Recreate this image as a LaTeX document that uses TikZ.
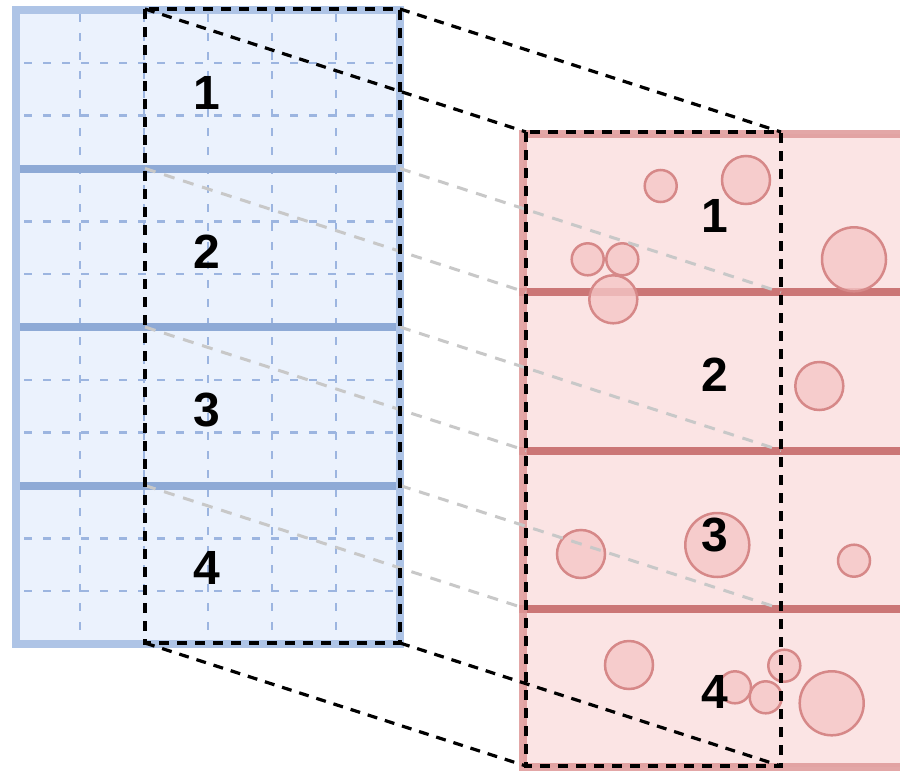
\documentclass[tikz,border=0pt]{standalone}
\usepackage{fontspec}
\setmainfont{Liberation Sans}
\definecolor{bluefill}{RGB}{235,242,253}
\definecolor{blueedge}{RGB}{174,196,230}
\definecolor{bluethick}{RGB}{142,170,214}
\definecolor{bluedash}{RGB}{156,181,224}
\definecolor{redfill}{RGB}{251,228,228}
\definecolor{rededge}{RGB}{222,152,152}
\definecolor{redthick}{RGB}{203,118,118}
\definecolor{circfill}{RGB}{245,198,198}
\definecolor{circedge}{RGB}{214,136,136}
\definecolor{greyline}{RGB}{200,200,200}
\begin{document}
\begin{tikzpicture}[x=1pt,y=-1pt,
  bluegrid/.style={draw=bluedash, line width=2.5pt, dash pattern=on 8pt off 11pt},
  bluesep/.style={draw=bluethick, line width=8pt},
  redsep/.style={draw=redthick, line width=8pt},
  bubble/.style={fill=circfill, draw=circedge, line width=2.5pt, fill opacity=0.8},
  viewbox/.style={draw=black, line width=3.2pt, dash pattern=on 10pt off 8pt},
  proj/.style={draw=black, line width=3.2pt, dash pattern=on 10pt off 8pt},
  sideproj/.style={draw=greyline, line width=3pt, dash pattern=on 11pt off 9pt},
  num/.style={inner sep=0pt, font=\bfseries\fontsize{48}{48}\selectfont}]
\useasboundingbox (0,0) rectangle (900,771);
\clip (0,0) rectangle (900,771);

% ---------- blue (left) block ----------
\fill[bluefill] (16,10) rectangle (400,644);
\foreach \x in {80,144,208,272,336}
  \draw[bluegrid] (\x,14) -- (\x,640);
\foreach \y in {62.8,115.7,221.3,274.2,379.8,432.7,538.3,591.2}
  \draw[bluegrid] (24,\y) -- (396,\y);
\foreach \y in {168.5,327,485.5}
  \draw[bluesep] (12,\y) -- (404,\y);
\draw[draw=blueedge, line width=8pt] (16,10) rectangle (400,644);

% ---------- red (right) block ----------
\fill[redfill] (523,134) rectangle (910,767);
\foreach \y in {292.25,450.5,608.75}
  \draw[redsep] (519,\y) -- (910,\y);
\draw[draw=rededge, line width=8pt, draw opacity=0.85] (910,134) -- (523,134) -- (523,767) -- (910,767);

% ---------- bubbles ----------
\foreach \cx/\cy/\r in {660.7/186/16, 746/180/24, 587.7/259.3/16, 622.3/259.3/16,
  613.3/299.3/24, 854/259.3/32, 819.3/386/24, 581/554/24, 717.3/545/32,
  854/560.7/16, 629/665/24, 735/687.3/16, 765.7/697.3/16, 784.3/665.7/16,
  831.7/703.3/32}
  \draw[bubble] (\cx,\cy) circle (\r);

% ---------- coordinates ----------
\coordinate (LTL) at (145,9);
\coordinate (LTR) at (400,9);
\coordinate (LBL) at (145,643);
\coordinate (LBR) at (400,643);
\coordinate (RTL) at (526,132);
\coordinate (RTR) at (781,132);
\coordinate (RBL) at (526,766);
\coordinate (RBR) at (781,766);
\coordinate (L1l) at (145,168.5);
\coordinate (L1r) at (400,168.5);
\coordinate (L2l) at (145,327);
\coordinate (L2r) at (400,327);
\coordinate (L3l) at (145,485.5);
\coordinate (L3r) at (400,485.5);
\coordinate (R1l) at (526,292.25);
\coordinate (R1r) at (781,292.25);
\coordinate (R2l) at (526,450.5);
\coordinate (R2r) at (781,450.5);
\coordinate (R3l) at (526,608.75);
\coordinate (R3r) at (781,608.75);

% ---------- grey projection lines ----------
\draw[sideproj] (L1l) -- (R1l);
\draw[sideproj] (L1r) -- (R1r);
\draw[sideproj] (L2l) -- (R2l);
\draw[sideproj] (L2r) -- (R2r);
\draw[sideproj] (L3l) -- (R3l);
\draw[sideproj] (L3r) -- (R3r);

% ---------- black dashed view boxes and projection ----------
\draw[viewbox] (LTL) rectangle (LBR);
\draw[viewbox] (RTL) rectangle (RBR);
\draw[proj] (LTL) -- (RTL);
\draw[proj] (LTR) -- (RTR);
\draw[proj] (LBL) -- (RBL);
\draw[proj] (LBR) -- (RBR);

% ---------- numbers ----------
\node[num] (b1) at (207,92.5) {1};
\node[num] (b2) at (207,252) {2};
\node[num] (b3) at (207,410) {3};
\node[num] (b4) at (207,567.5) {4};
\node[num] (r1) at (715,216) {1};
\node[num] (r2) at (715,375) {2};
\node[num] (r3) at (715,535) {3};
\node[num] (r4) at (715,692) {4};
\end{tikzpicture}
\end{document}
